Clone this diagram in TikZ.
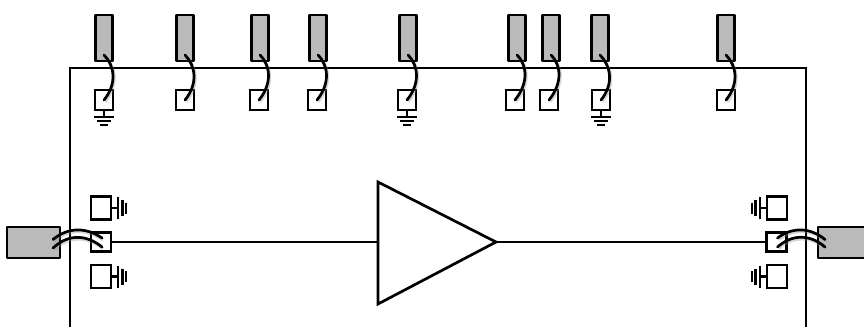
\documentclass[tikz,border=0pt]{standalone}
\usetikzlibrary{calc}
\tikzset{
  ln/.style={line width=2.7pt},
  shade copy/.style={preaction={draw=black!45,opacity=.35,line width=3.4pt,transform canvas={shift={(1pt,-1.5pt)}}}},
  padbox/.style={draw=black,ln,fill=black!27,inner sep=0pt,outer sep=0pt,rectangle,line join=round},
  toppad/.style={padbox,minimum width=17pt,minimum height=46pt},
  sidepad/.style={padbox,minimum width=53pt,minimum height=31pt},
  tinybox/.style={draw=black,ln,fill=white,inner sep=0pt,outer sep=0pt,minimum width=18pt,minimum height=20pt,rectangle},
  sigbox/.style={draw=black,ln,fill=white,inner sep=0pt,outer sep=0pt,minimum width=20pt,minimum height=19pt,rectangle},
  capbox/.style={draw=black,ln,fill=white,inner sep=0pt,outer sep=0pt,minimum width=20pt,minimum height=23pt,rectangle},
  wire/.style={draw=black,ln,line cap=round,shade copy},
  trace/.style={draw=black,ln},
  gndbar/.style={draw=black,line width=2.1pt},
}
\begin{document}
\begin{tikzpicture}[x=1pt,y=-1pt]
\useasboundingbox (0,0) rectangle (864,327);
\fill[white] (0,0) rectangle (864,327);
% chip outline
\draw[black,ln] (70,327) -- (70,68) -- (806,68) -- (806,327);
% top pads and on-chip squares
\foreach \n/\px/\sx in {1/104/104,2/185/185,3/260/259,4/318/317,5/408/407,6/517/515,7/551/549,8/600/601,9/726/726}{
  \node[toppad] (p\n) at (\px,38) {};
  \node[tinybox] (s\n) at (\sx,100) {};
}
% bond wires, top
\foreach \n in {1,...,9}{
  \draw[wire] ([yshift=6pt]p\n.south) .. controls ($(p\n.south)+(11,5)$) and ($(s\n.center)+(13,-16)$) .. (s\n.center);
}
% ground symbols under squares
\foreach \n in {1,5,8}{
  \coordinate (g\n) at ($(s\n.south)+(0,7)$);
  \draw[black,ln] (s\n.south) -- (g\n);
  \draw[gndbar] ($(g\n)+(-10,0)$) -- ($(g\n)+(10,0)$);
  \draw[gndbar] ($(g\n)+(-7,4)$) -- ($(g\n)+(7,4)$);
  \draw[gndbar] ($(g\n)+(-4,8)$) -- ($(g\n)+(4,8)$);
}
% amplifier
\coordinate (ampa) at (378,182);
\coordinate (ampb) at (378,304);
\coordinate (ampin) at (378,242);
\coordinate (ampout) at (496,242);
\draw[black,ln,fill=white,line join=miter] (ampa) -- (ampout) -- (ampb) -- cycle;
% RF squares and pads
\node[sigbox] (li) at (101,242) {};
\node[sigbox] (ri) at (776.5,242) {};
\node[sidepad] (lp) at (33.5,242.5) {};
\node[sidepad] (rp) at (844.5,242.5) {};
\draw[trace] (li.east) -- (ampin);
\draw[trace] (ampout) -- (ri.west);
% RF bond wires
\draw[wire] ($(lp.east)+(-7,-3)$) .. controls (68,227) and (86,227) .. ($(li.center)+(1,-4)$);
\draw[wire] ($(lp.east)+(-7,5.5)$) .. controls (68,234) and (86,234) .. ($(li.center)+(1,5)$);
\draw[wire] ($(ri.center)+(1,-4)$) .. controls (792,227) and (810,227) .. ($(rp.west)+(7,-3)$);
\draw[wire] ($(ri.center)+(1,5)$) .. controls (792,234) and (810,234) .. ($(rp.west)+(7,4.5)$);
% decoupling caps, left
\foreach \n/\y in {a/208,b/276.5}{
  \node[capbox] (lc\n) at (101,\y) {};
  \coordinate (lg\n) at ($(lc\n.east)+(7,0)$);
  \draw[black,ln] (lc\n.east) -- (lg\n);
  \draw[gndbar] ($(lg\n)+(0,-11)$) -- ($(lg\n)+(0,11)$);
  \draw[gndbar] ($(lg\n)+(4.5,-8)$) -- ($(lg\n)+(4.5,8)$);
  \draw[gndbar] ($(lg\n)+(8,-5.5)$) -- ($(lg\n)+(8,5.5)$);
}
% decoupling caps, right
\foreach \n/\y in {a/208,b/276.5}{
  \node[capbox] (rc\n) at (777,\y) {};
  \coordinate (rg\n) at ($(rc\n.west)+(-7,0)$);
  \draw[black,ln] (rc\n.west) -- (rg\n);
  \draw[gndbar] ($(rg\n)+(0,-11)$) -- ($(rg\n)+(0,11)$);
  \draw[gndbar] ($(rg\n)+(-4.5,-8)$) -- ($(rg\n)+(-4.5,8)$);
  \draw[gndbar] ($(rg\n)+(-8,-5.5)$) -- ($(rg\n)+(-8,5.5)$);
}
\end{tikzpicture}
\end{document}
